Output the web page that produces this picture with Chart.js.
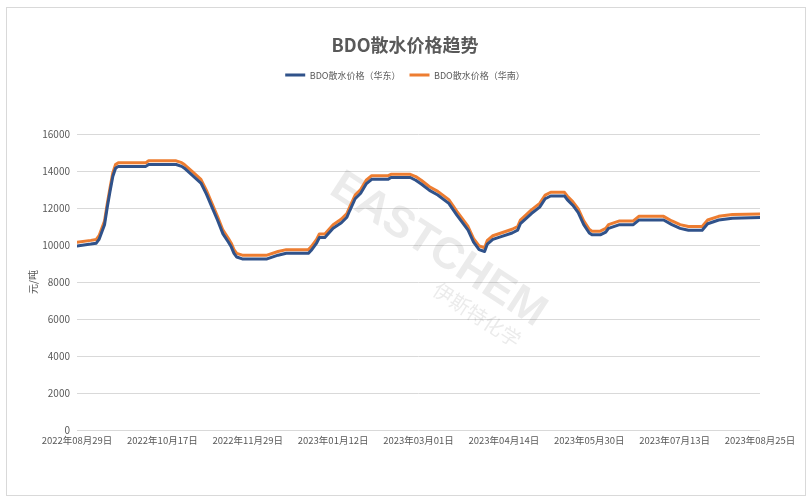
<!DOCTYPE html>
<html>
<head>
<meta charset="utf-8">
<script src="https://cdn.jsdelivr.net/npm/chart.js@4.4.0/dist/chart.umd.min.js"></script>
<style>
  html, body { margin: 0; padding: 0; background: #ffffff; }
  #wrap { position: relative; width: 811px; height: 503px; }
  #frame { position: absolute; left: 6px; top: 7px; width: 798px; height: 487px; border: 1px solid #d9d9d9; pointer-events: none; }
  canvas { position: absolute; left: 0; top: 0; }
</style>
</head>
<body>
<div id="wrap">
  <canvas id="c" width="811" height="503"></canvas>
  <div id="frame"></div>
</div>
<script>
// ---- data (trading-day index from 2022-08-29) ----
const tickLabels = ["2022年08月29日","2022年10月17日","2022年11月29日","2023年01月12日","2023年03月01日","2023年04月14日","2023年05月30日","2023年07月13日","2023年08月25日"];
const tickDayIndex = [0, 31, 62, 93, 124, 155, 186, 217, 248];
const dayIndex = [0,5,7,8,10,11,12,13,14,15,25,26,36,38,39,42,45,47,49,51,53,55,56,57,58,60,69,73,76,84,85,87,88,90,93,96,98,99,101,103,105,107,113,114,121,123,125,128,131,135,138,142,144,146,148,149,151,154,158,160,161,165,168,170,172,177,178,180,182,184,186,187,190,192,193,197,202,204,213,216,219,222,227,229,233,238,248];
const eastChina = [9950,10050,10100,10300,11100,12050,12900,13700,14150,14250,14250,14350,14350,14250,14150,13750,13350,12750,12050,11350,10600,10150,9900,9550,9350,9250,9250,9450,9550,9550,9700,10100,10400,10400,10900,11200,11500,11850,12500,12800,13300,13550,13550,13650,13650,13500,13300,12950,12700,12250,11600,10800,10150,9750,9650,10050,10300,10450,10650,10800,11150,11700,12050,12500,12650,12650,12450,12150,11750,11100,10650,10550,10550,10700,10900,11100,11100,11350,11350,11100,10900,10800,10800,11150,11350,11450,11480];
const southChina = [10150,10250,10300,10500,11300,12250,13100,13900,14350,14450,14450,14550,14550,14450,14350,13950,13550,12950,12250,11550,10800,10350,10100,9750,9550,9450,9450,9650,9750,9750,9900,10300,10600,10600,11100,11400,11700,12050,12700,13000,13500,13750,13750,13820,13820,13700,13500,13150,12900,12450,11800,11000,10350,9950,9850,10250,10500,10650,10850,11000,11350,11900,12250,12700,12850,12850,12650,12350,11950,11300,10850,10750,10750,10900,11100,11300,11300,11550,11550,11300,11100,11000,11000,11350,11550,11650,11680];
const seriesNames = ["BDO散水价格（华东）", "BDO散水价格（华南）"];
const yTicks = [0, 2000, 4000, 6000, 8000, 10000, 12000, 14000, 16000];

const FONT = '"Microsoft YaHei", "Noto Sans CJK SC", "Noto Sans", sans-serif';
const TXT = '#595959';

function pts(vals) { return dayIndex.map((d, i) => ({ x: d, y: vals[i] })); }

const legendGap = {
  id: 'legendGap',
  beforeInit(chart) {
    const lg = chart.legend;
    if (lg) {
      const f = lg.fit;
      lg.fit = function () { f.call(this); this.height += 44.4; };
    }
  },
  afterLayout(chart) {
    // centre the title and legend block on the whole frame rather than the padded area
    [chart.titleBlock, chart.legend].forEach(b => { if (b) { b.left = 50; b.width = b.right - b.left; } });
  }
};

const watermark = {
  id: 'watermark',
  beforeDatasetsDraw(chart) {
    const ctx = chart.ctx;
    ctx.save();
    ctx.translate(438, 250);
    ctx.rotate(33 * Math.PI / 180);
    ctx.fillStyle = 'rgba(90,90,90,0.12)';
    ctx.textAlign = 'center';
    ctx.textBaseline = 'middle';
    ctx.font = 'bold 44px "Liberation Sans", Arial, sans-serif';
    ctx.fillText('EASTCHEM', 0, 0);
    ctx.font = '20px "Noto Sans CJK SC", sans-serif';
    ctx.fillText('伊斯特化学', 68, 33);
    ctx.restore();
  }
};

new Chart(document.getElementById('c'), {
  type: 'line',
  data: {
    datasets: [
      { label: seriesNames[0], data: pts(eastChina), borderColor: '#30528a', backgroundColor: '#30528a', borderWidth: 3, pointRadius: 0, tension: 0, borderJoinStyle: 'round', borderCapStyle: 'round' },
      { label: seriesNames[1], data: pts(southChina), borderColor: '#ed7d31', backgroundColor: '#ed7d31', borderWidth: 3, pointRadius: 0, tension: 0, borderJoinStyle: 'round', borderCapStyle: 'round' }
    ]
  },
  options: {
    responsive: false,
    animation: false,
    events: [],
    layout: { padding: { left: 25, right: 51, top: 0, bottom: 0 } },
    plugins: {
      title: {
        display: true,
        text: 'BDO散水价格趋势',
        color: TXT,
        font: { family: FONT, size: 18, weight: 'bold', lineHeight: 1.2 },
        padding: { top: 34, bottom: 6 }
      },
      legend: {
        display: true,
        position: 'top',
        labels: {
          color: TXT,
          font: { family: FONT, size: 9 },
          usePointStyle: true,
          pointStyle: 'line',
          pointStyleWidth: 20,
          padding: 9
        }
      },
      tooltip: { enabled: false }
    },
    scales: {
      x: {
        type: 'linear',
        min: tickDayIndex[0],
        max: tickDayIndex[tickDayIndex.length - 1],
        grid: { display: false, drawTicks: false },
        border: { display: false },
        afterBuildTicks(s) { s.ticks = tickDayIndex.map(v => ({ value: v })); },
        afterFit(s) { s.height = 73; },
        ticks: {
          autoSkip: false,
          maxRotation: 0,
          color: TXT,
          padding: 5,
          font: { family: FONT, size: 9.5 },
          callback(v) { const k = tickDayIndex.indexOf(v); return k >= 0 ? tickLabels[k] : ''; }
        }
      },
      y: {
        min: 0,
        max: 16000,
        afterBuildTicks(s) { s.ticks = yTicks.map(v => ({ value: v })); },
        afterFit(s) { s.width = 52; },
        grid: { color: '#d9d9d9', lineWidth: 1, drawTicks: false },
        border: { display: false },
        ticks: { color: TXT, padding: 7, font: { family: FONT, size: 10 }, callback(v) { return String(v); } },
        title: { display: true, text: '元/吨', color: TXT, font: { family: FONT, size: 10, lineHeight: 1.2 }, padding: { top: 2, bottom: 0 } }
      }
    }
  },
  plugins: [legendGap, watermark]
});
</script>
</body>
</html>
